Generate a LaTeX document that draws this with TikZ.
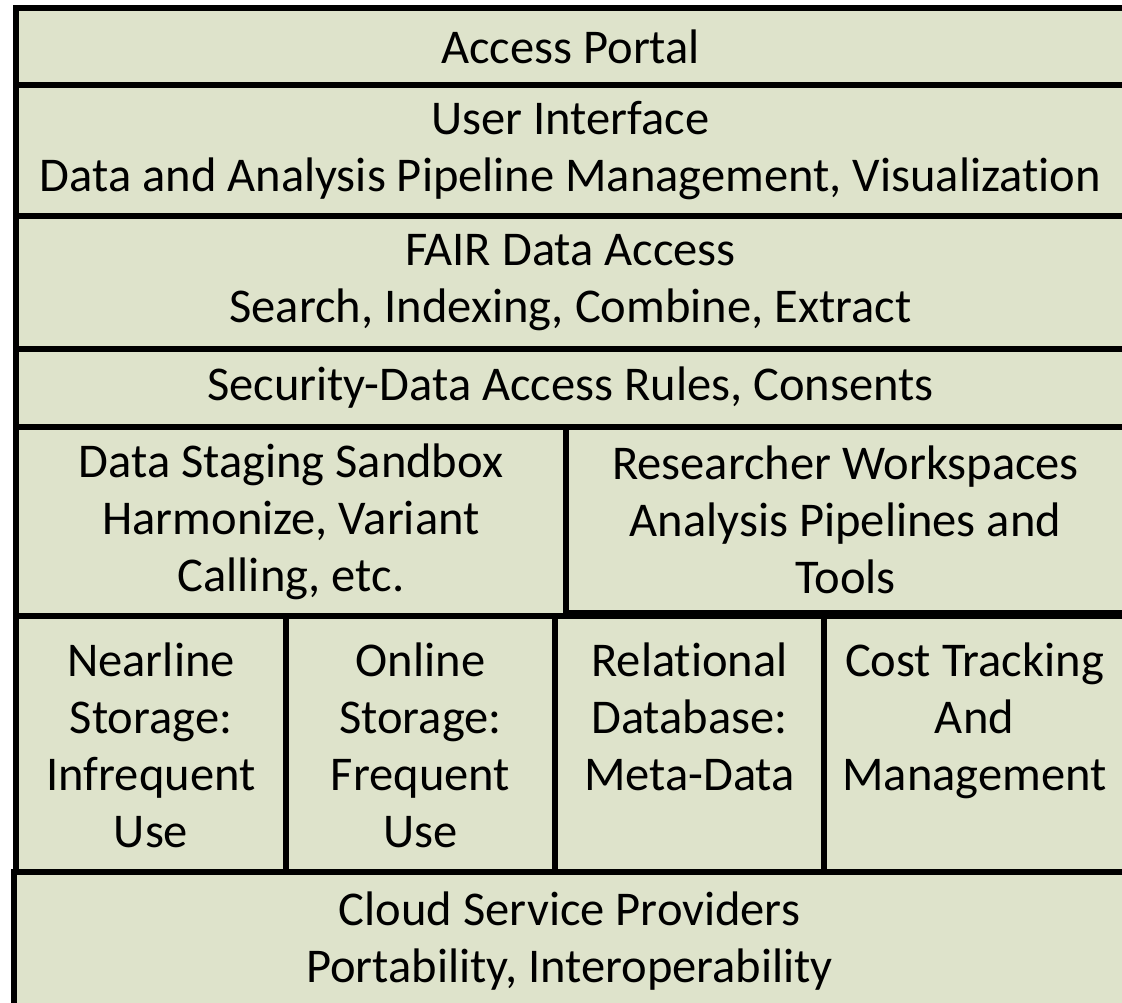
\documentclass[tikz,border=0pt]{standalone}
\usepackage{fontspec}
\setmainfont{Carlito}[Ligatures=NoCommon]
\usepackage{xcolor}
\usetikzlibrary{positioning}
\definecolor{LayerFill}{HTML}{DEE3CB}
\definecolor{LayerLine}{HTML}{000000}

\begin{document}
\begin{tikzpicture}[
  x=1pt,y=-1pt,
  font=\fontsize{48.5}{57}\selectfont,
  layer/.style={rectangle,draw=LayerLine,line width=6pt,fill=LayerFill,align=center,inner sep=0pt,outer sep=0pt},
  cell/.style={layer,minimum height=256pt},
  celltext/.style={align=center,inner sep=0pt}
]
\useasboundingbox (0,0) rectangle (1122,1003);

% stack of service layers, top to bottom
\node[layer,minimum width=1109pt,minimum height=77pt] (portal) at (570.5,46.5) {Access Portal};
\node[layer,minimum width=1109pt,minimum height=131pt,below=0pt of portal] (ui) {User Interface\\Data and Analysis Pipeline Management, Visualization};
\node[layer,minimum width=1109pt,minimum height=133pt,below=0pt of ui] (fair) {FAIR Data Access\\Search, Indexing, Combine, Extract};
\node[layer,minimum width=1109pt,minimum height=78pt,below=0pt of fair] (security) {Security-Data Access Rules, Consents};

% staging and workspaces
\node[layer,minimum width=550pt,minimum height=189pt,anchor=north west] (staging) at (security.south west) {Data Staging Sandbox\\Harmonize, Variant\\Calling, etc.};
\node[layer,minimum width=559pt,minimum height=186pt,anchor=north west] (workspace) at (staging.north east) {Researcher Workspaces\\Analysis Pipelines and\\Tools};

% storage and management row
\node[cell,minimum width=270pt,anchor=north west] (nearline) at (staging.south west) {};
\node[cell,minimum width=269pt,anchor=north west] (online) at (nearline.north east) {};
\node[cell,minimum width=269pt,anchor=north west] (relational) at (online.north east) {};
\node[cell,minimum width=301pt,anchor=north west] (cost) at (relational.north east) {};

\node[celltext,below=27pt of nearline.north] (nearlineText) {Nearline\\Storage:\\Infrequent\\Use};
\node[celltext,below=27pt of online.north] (onlineText) {Online\\Storage:\\Frequent\\Use};
\node[celltext,below=27pt of relational.north] (relationalText) {Relational\\Database:\\Meta-Data};
\node[celltext,below=27pt of cost.north] (costText) {Cost Tracking\\And\\Management};

\node[layer,minimum width=1111pt,minimum height=138pt,anchor=north west] (cloud) at ([xshift=-2pt]nearline.south west) {Cloud Service Providers\\Portability, Interoperability};
\end{tikzpicture}
\end{document}
